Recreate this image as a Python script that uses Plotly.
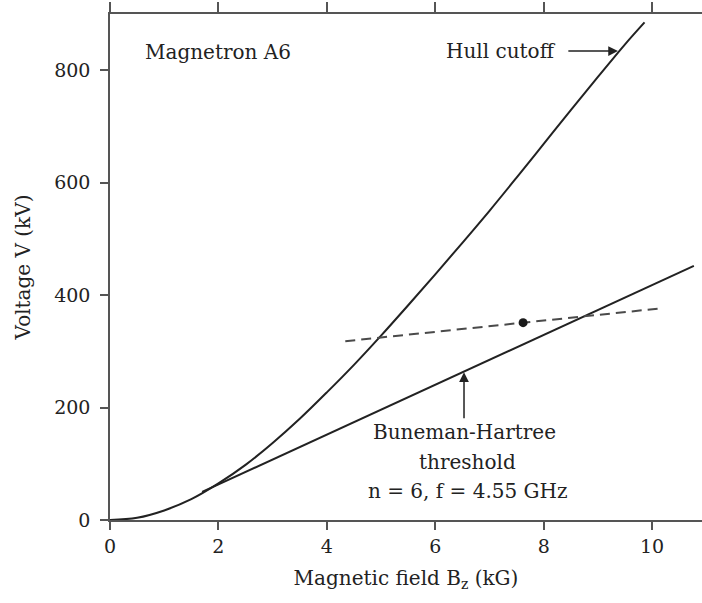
import plotly.graph_objects as go

# Hull cutoff curve (B in kG, V in kV)
hull_b = [0, 0.5, 1.0, 1.5, 2.0, 2.5, 3.0, 3.5, 4.0, 4.5, 5.0, 5.5, 6.0, 6.5, 7.0, 7.5, 8.0, 8.5, 9.0, 9.5, 9.86]
hull_v = [0, 4, 17, 37, 65, 98, 137, 180, 227, 276, 328, 382, 437, 493, 550, 609, 669, 729, 788, 846, 885]

# Buneman-Hartree threshold (straight line)
bh_b = [1.7, 10.77]
bh_v = [50, 452]

# Dashed line and operating point
dash_b = [4.34, 10.12]
dash_v = [318, 376]
point_b = [7.62]
point_v = [351]

x_ticks = [0, 2, 4, 6, 8, 10]
y_ticks = [0, 200, 400, 600, 800]

FONT = "DejaVu Serif"
TXT = "#222222"
AX = "#555555"
LN = "#222222"

fig = go.Figure()
fig.add_trace(go.Scatter(x=hull_b, y=hull_v, mode="lines", line=dict(color=LN, width=2, shape="spline"),
                         showlegend=False, hoverinfo="skip"))
fig.add_trace(go.Scatter(x=bh_b, y=bh_v, mode="lines", line=dict(color=LN, width=2),
                         showlegend=False, hoverinfo="skip"))
fig.add_trace(go.Scatter(x=dash_b, y=dash_v, mode="lines", line=dict(color="#4a4a4a", width=2, dash="10px,6px"),
                         showlegend=False, hoverinfo="skip"))
fig.add_trace(go.Scatter(x=point_b, y=point_v, mode="markers", marker=dict(color="#1a1a1a", size=9),
                         showlegend=False, hoverinfo="skip"))
# invisible trace to anchor top axis
fig.add_trace(go.Scatter(x=[0], y=[0], xaxis="x2", mode="markers", marker=dict(opacity=0),
                         showlegend=False, hoverinfo="skip"))

axis_common = dict(showgrid=False, zeroline=False, showline=True, linecolor=AX, linewidth=1.5,
                   ticks="outside", tickcolor=AX, tickwidth=1.5)
tick_font = dict(family=FONT, size=19, color=TXT)

fig.update_layout(
    width=702, height=603,
    margin=dict(l=110, r=0, t=14, b=83),
    paper_bgcolor="white", plot_bgcolor="white",
    xaxis=dict(range=[0, 10.92], tickvals=x_ticks, ticklen=8, tickfont=tick_font,
               title=dict(text="Magnetic field B<sub>z</sub> (kG)", font=dict(family=FONT, size=20, color=TXT), standoff=15),
               **axis_common),
    xaxis2=dict(range=[0, 10.92], tickvals=x_ticks, ticklen=10, overlaying="x", side="top",
                showticklabels=False, anchor="y", **axis_common),
    yaxis=dict(range=[0, 900], tickvals=y_ticks, ticklen=8, ticklabelstandoff=6, tickfont=tick_font,
               title=dict(text="Voltage V (kV)", font=dict(family=FONT, size=20, color=TXT), standoff=18),
               **axis_common),
)

ann_font = dict(family=FONT, size=20, color=TXT)
fig.add_annotation(x=1.99, y=832, text="Magnetron A6", showarrow=False, font=ann_font, xanchor="center", yanchor="middle")
# Hull cutoff label with arrow pointing at the curve
fig.add_annotation(x=9.37, y=834, ax=8.27, ay=834, axref="x", ayref="y", text="Hull cutoff",
                   xanchor="right", yanchor="middle", font=ann_font, showarrow=True, startstandoff=10,
                   arrowhead=2, arrowsize=1.3, arrowwidth=1.5, arrowcolor=LN)
# Buneman-Hartree label with arrow pointing at the threshold line
fig.add_annotation(x=6.53, y=263, ax=6.53, ay=181, axref="x", ayref="y", text="Buneman-Hartree",
                   xanchor="center", yanchor="top", font=ann_font, showarrow=True, startstandoff=0,
                   arrowhead=2, arrowsize=1.3, arrowwidth=1.5, arrowcolor=LN)
fig.add_annotation(x=6.6, y=103, text="threshold", showarrow=False, font=ann_font, xanchor="center", yanchor="middle")
fig.add_annotation(x=6.6, y=52, text="n = 6, f = 4.55 GHz", showarrow=False, font=ann_font, xanchor="center", yanchor="middle")

fig.write_html("out.html")
